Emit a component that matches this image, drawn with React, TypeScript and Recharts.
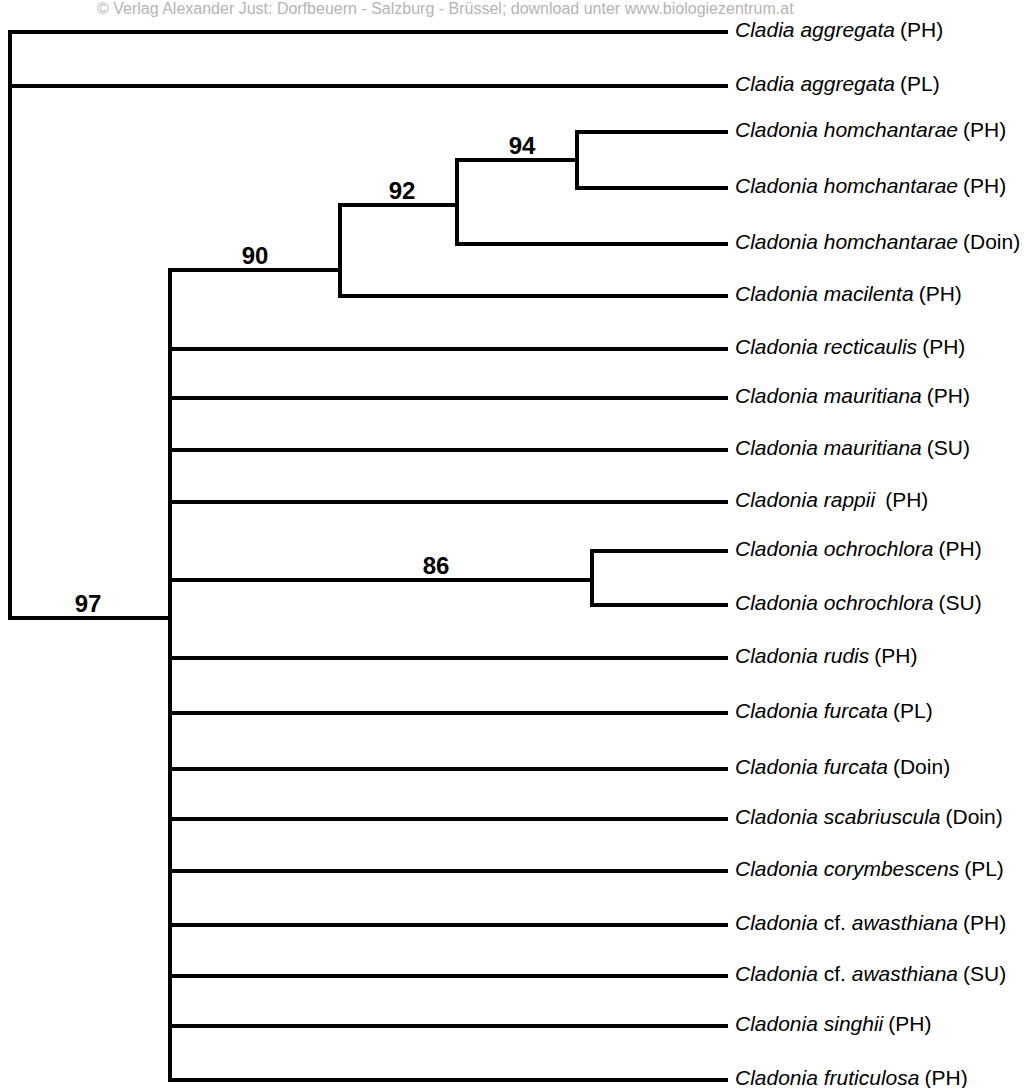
import React from "react";
import { ScatterChart, Scatter, XAxis, YAxis } from "recharts";

// leaves, top to bottom
const leafGenus = [
  "Cladia", "Cladia", "Cladonia", "Cladonia", "Cladonia", "Cladonia", "Cladonia",
  "Cladonia", "Cladonia", "Cladonia", "Cladonia", "Cladonia", "Cladonia", "Cladonia",
  "Cladonia", "Cladonia", "Cladonia", "Cladonia", "Cladonia", "Cladonia", "Cladonia",
];
const leafQualifier = ["", "", "", "", "", "", "", "", "", "", "", "", "", "", "", "", "", "cf.", "cf.", "", ""];
const leafEpithet = [
  "aggregata", "aggregata", "homchantarae", "homchantarae", "homchantarae", "macilenta",
  "recticaulis", "mauritiana", "mauritiana", "rappii", "ochrochlora", "ochrochlora", "rudis",
  "furcata", "furcata", "scabriuscula", "corymbescens", "awasthiana", "awasthiana", "singhii",
  "fruticulosa",
];
const leafSite = [
  "PH", "PL", "PH", "PH", "Doin", "PH", "PH", "PH", "SU", "PH", "PH", "SU", "PH", "PL",
  "Doin", "Doin", "PL", "PH", "SU", "PH", "PH",
];
const leafRow = [32, 86, 132, 188, 244, 296, 349, 398, 450, 502, 551, 605, 658, 713, 769, 819, 871, 925, 976, 1026, 1080];
// index into the node arrays below
const leafParent = [0, 0, 4, 4, 3, 2, 1, 1, 1, 1, 5, 5, 1, 1, 1, 1, 1, 1, 1, 1, 1];
const tipDepth = 726;

// internal nodes: root, then the supported clades
const nodeDepth = [10, 170, 340, 457, 577, 592];
const nodeRow = [0, 618, 270, 205, 160, 580];
const nodeParent = [-1, 0, 1, 2, 3, 1];
const nodeSupport = ["", "97", "90", "92", "94", "86"];
const supportAt = [0, 88, 255, 402, 522, 436];

type Pt = { x: number; y: number };

const segments: Pt[][] = [];
leafRow.forEach((y, i) => {
  segments.push([{ x: nodeDepth[leafParent[i]], y }, { x: tipDepth, y }]);
});
nodeDepth.forEach((x, n) => {
  const p = nodeParent[n];
  if (p >= 0) segments.push([{ x: nodeDepth[p], y: nodeRow[n] }, { x, y: nodeRow[n] }]);
  const ys = [
    ...leafRow.filter((_, i) => leafParent[i] === n),
    ...nodeRow.filter((_, c) => nodeParent[c] === n),
  ];
  segments.push([{ x, y: Math.min(...ys) }, { x, y: Math.max(...ys) }]);
});

const leafLabels = leafRow.map((y, i) => ({
  x: tipDepth,
  y,
  genus: leafGenus[i],
  qual: leafQualifier[i],
  epithet: leafEpithet[i],
  site: leafSite[i],
}));
const supportLabels = nodeSupport
  .map((s, n) => ({ x: supportAt[n], y: nodeRow[n], text: s }))
  .filter((d) => d.text);

const Nothing = () => <g />;

const LeafText = (props: any) => {
  const { cx, cy, payload } = props;
  const d = payload;
  return (
    <text
      x={cx + 9}
      y={cy - 3}
      dominantBaseline="central"
      fontFamily="'Liberation Sans', Arial, sans-serif"
      fontSize={21}
      fill="#000"
    >
      <tspan fontStyle="italic">{d.genus} </tspan>
      {d.qual ? <tspan>{d.qual} </tspan> : null}
      <tspan fontStyle="italic">{d.epithet}</tspan>
      <tspan dx={d.epithet === "rappii" ? 10 : 5}>({d.site})</tspan>
    </text>
  );
};

const SupportText = (props: any) => {
  const { cx, cy, payload } = props;
  return (
    <text
      x={cx}
      y={cy - 6}
      textAnchor="middle"
      fontFamily="'Liberation Sans Narrow', 'Liberation Sans', Arial, sans-serif"
      fontWeight="bold"
      fontSize={24}
      fill="#000"
    >
      {payload.text}
    </text>
  );
};

export default function App() {
  return (
    <div style={{ position: "absolute", left: 0, top: 0, width: 1024, height: 1088, background: "#fff" }}>
      <div
        style={{
          position: "absolute",
          left: 97,
          top: 0,
          fontFamily: "'Liberation Sans Narrow', 'Liberation Sans', Arial, sans-serif",
          fontSize: 16,
          color: "#b4b4b4",
          whiteSpace: "nowrap",
          lineHeight: "18px",
        }}
      >
        © Verlag Alexander Just: Dorfbeuern - Salzburg - Brüssel; download unter www.biologiezentrum.at
      </div>
      <div style={{ position: "absolute", left: 0, top: 0 }}>
        <ScatterChart width={1024} height={1088} margin={{ top: 0, right: 0, bottom: 0, left: 0 }}>
          <XAxis type="number" dataKey="x" domain={[0, 1024]} hide />
          <YAxis type="number" dataKey="y" domain={[0, 1088]} reversed hide />
          {segments.map((seg, i) => (
            <Scatter
              key={i}
              data={seg}
              fill="#000"
              line={{ stroke: "#000", strokeWidth: 4, strokeLinecap: "square" }}
              shape={Nothing}
              isAnimationActive={false}
            />
          ))}
          <Scatter data={leafLabels} fill="#000" shape={LeafText} isAnimationActive={false} />
          <Scatter data={supportLabels} fill="#000" shape={SupportText} isAnimationActive={false} />
        </ScatterChart>
      </div>
    </div>
  );
}
